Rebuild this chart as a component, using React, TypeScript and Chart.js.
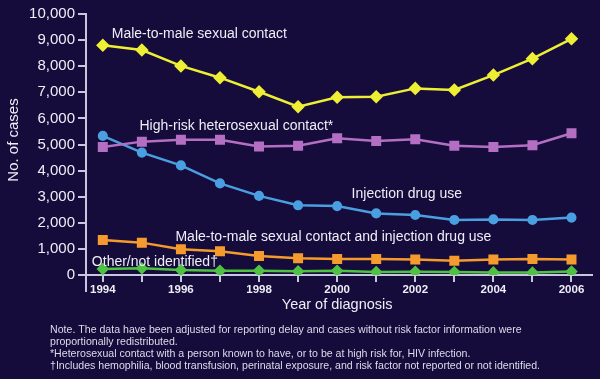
import React, { useEffect, useRef } from "react";
import { Chart, registerables } from "chart.js";

Chart.register(...registerables);

const years = [1994, 1995, 1996, 1997, 1998, 1999, 2000, 2001, 2002, 2003, 2004, 2005, 2006];
const maleToMale = [8800, 8620, 8010, 7560, 7020, 6450, 6810, 6830, 7150, 7090, 7660, 8290, 9050];
const heterosexual = [4900, 5110, 5180, 5180, 4920, 4950, 5240, 5130, 5200, 4950, 4900, 4970, 5430];
const injectionDrugUse = [5330, 4690, 4200, 3510, 3030, 2670, 2640, 2360, 2300, 2110, 2130, 2110, 2200];
const maleToMaleAndIdu = [1340, 1240, 985, 910, 730, 640, 610, 610, 590, 550, 590, 610, 590];
const otherNotIdentified = [230, 255, 190, 165, 165, 140, 165, 115, 127, 115, 100, 95, 130];

const seriesLabels = [
  "Male-to-male sexual contact",
  "High-risk heterosexual contact*",
  "Injection drug use",
  "Male-to-male sexual contact and injection drug use",
  "Other/not identified\u2020",
];
// label anchor points in data space (year, cases)
const labelYears = [1994.23, 1994.94, 2000.37, 1995.86, 1993.72];
const labelValues = [9234, 5709, 3103, 1456, 498];

const yTicksMax = 10000;
const yTickStep = 1000;
const xTitle = "Year of diagnosis";
const yTitle = "No. of cases";
const notes = [
  "Note. The data have been adjusted for reporting delay and cases without risk factor information were",
  "proportionally redistributed.",
  "*Heterosexual contact with a person known to have, or to be at high risk for, HIV infection.",
  "\u2020Includes hemophilia, blood transfusion, perinatal exposure, and risk factor not reported or not identified.",
];

const BG = "#150c3c";
const AXIS = "#c9c6e0";
const TEXT = "#eeeef6";

export default function App() {
  const ref = useRef<HTMLCanvasElement | null>(null);

  useEffect(() => {
    if (!ref.current) return;
    const pts = (arr: number[]) => years.map((y, i) => ({ x: y, y: arr[i] }));

    const textPlugin = {
      id: "texts",
      afterDatasetsDraw(chart: any) {
        const ctx = chart.ctx;
        const xs = chart.scales.x;
        const ys = chart.scales.y;
        const area = chart.chartArea;
        ctx.save();
        // extend y axis below x axis
        ctx.strokeStyle = AXIS;
        ctx.lineWidth = 2;
        ctx.beginPath();
        ctx.moveTo(area.left, area.bottom);
        ctx.lineTo(area.left, area.bottom + 17);
        ctx.stroke();

        ctx.fillStyle = TEXT;
        ctx.font = "14px 'Liberation Sans', Arial, sans-serif";
        ctx.textAlign = "left";
        ctx.textBaseline = "middle";
        seriesLabels.forEach((t, i) => {
          ctx.fillText(t, xs.getPixelForValue(labelYears[i]), ys.getPixelForValue(labelValues[i]));
        });

        // axis titles
        ctx.font = "14.5px 'Liberation Sans', Arial, sans-serif";
        ctx.textAlign = "center";
        ctx.fillText(xTitle, xs.getPixelForValue(2000), area.bottom + 30);
        ctx.save();
        ctx.font = "15px 'Liberation Sans', Arial, sans-serif";
        ctx.translate(14, 140);
        ctx.rotate(-Math.PI / 2);
        ctx.fillText(yTitle, 0, 0);
        ctx.restore();

        // notes
        ctx.fillStyle = "#dcdcea";
        ctx.font = "10.6px 'Liberation Sans', Arial, sans-serif";
        ctx.textAlign = "left";
        const lineY = [330, 342, 354, 366];
        notes.forEach((n, i) => ctx.fillText(n, 50, lineY[i]));
        ctx.restore();
      },
    };

    const chart = new Chart(ref.current, {
      type: "line",
      data: {
        datasets: [
          {
            label: seriesLabels[0],
            data: pts(maleToMale),
            borderColor: "#eeee34",
            backgroundColor: "#eeee34",
            borderWidth: 2.5,
            pointStyle: "rectRot",
            pointRadius: 5,
          },
          {
            label: seriesLabels[1],
            data: pts(heterosexual),
            borderColor: "#b46fc2",
            backgroundColor: "#b46fc2",
            borderWidth: 2.5,
            pointStyle: "rect",
            pointRadius: 5.3,
          },
          {
            label: seriesLabels[2],
            data: pts(injectionDrugUse),
            borderColor: "#4a9fe0",
            backgroundColor: "#4a9fe0",
            borderWidth: 2.5,
            pointStyle: "circle",
            pointRadius: 3.8,
          },
          {
            label: seriesLabels[3],
            data: pts(maleToMaleAndIdu),
            borderColor: "#f59b2e",
            backgroundColor: "#f59b2e",
            borderWidth: 2.5,
            pointStyle: "rect",
            pointRadius: 5.3,
          },
          {
            label: seriesLabels[4],
            data: pts(otherNotIdentified),
            borderColor: "#4fc243",
            backgroundColor: "#4fc243",
            borderWidth: 2.5,
            pointStyle: "rectRot",
            pointRadius: 4.5,
          },
        ],
      },
      options: {
        animation: false,
        responsive: false,
        devicePixelRatio: 1,
        layout: { padding: { left: 0, right: 5, top: 14, bottom: 0 } },
        plugins: { legend: { display: false }, tooltip: { enabled: false } },
        elements: { line: { tension: 0 }, point: { borderWidth: 0 } },
        scales: {
          x: {
            type: "linear",
            min: 1993.57,
            max: 2006.53,
            afterFit: (s: any) => {
              s.height = 104;
            },
            ticks: {
              stepSize: 1,
              includeBounds: false,
              autoSkip: false,
              maxRotation: 0,
              padding: 1,
              color: TEXT,
              font: { family: "'Liberation Sans', Arial, sans-serif", size: 11.5, weight: "bold" },
              callback: (v: any) => (Number(v) % 2 === 0 ? String(v) : ""),
            },
            grid: { drawOnChartArea: false, drawTicks: true, tickLength: 7, color: AXIS, lineWidth: 2 },
            border: { display: true, color: AXIS, width: 2 },
          },
          y: {
            min: 0,
            max: yTicksMax,
            afterFit: (s: any) => {
              s.width = 86;
            },
            ticks: {
              stepSize: yTickStep,
              padding: 3,
              color: TEXT,
              font: { family: "'Liberation Sans', Arial, sans-serif", size: 15 },
              callback: (v: any) => Number(v).toLocaleString("en-US"),
            },
            grid: { drawOnChartArea: false, drawTicks: true, tickLength: 8, color: AXIS, lineWidth: 2 },
            border: { display: true, color: AXIS, width: 2 },
          },
        },
      },
      plugins: [textPlugin],
    } as any);
    return () => chart.destroy();
  }, []);

  return (
    <div style={{ position: "fixed", left: 0, top: 0, width: 600, height: 379, background: BG }}>
      <canvas ref={ref} width={600} height={379} style={{ display: "block" }} />
    </div>
  );
}
